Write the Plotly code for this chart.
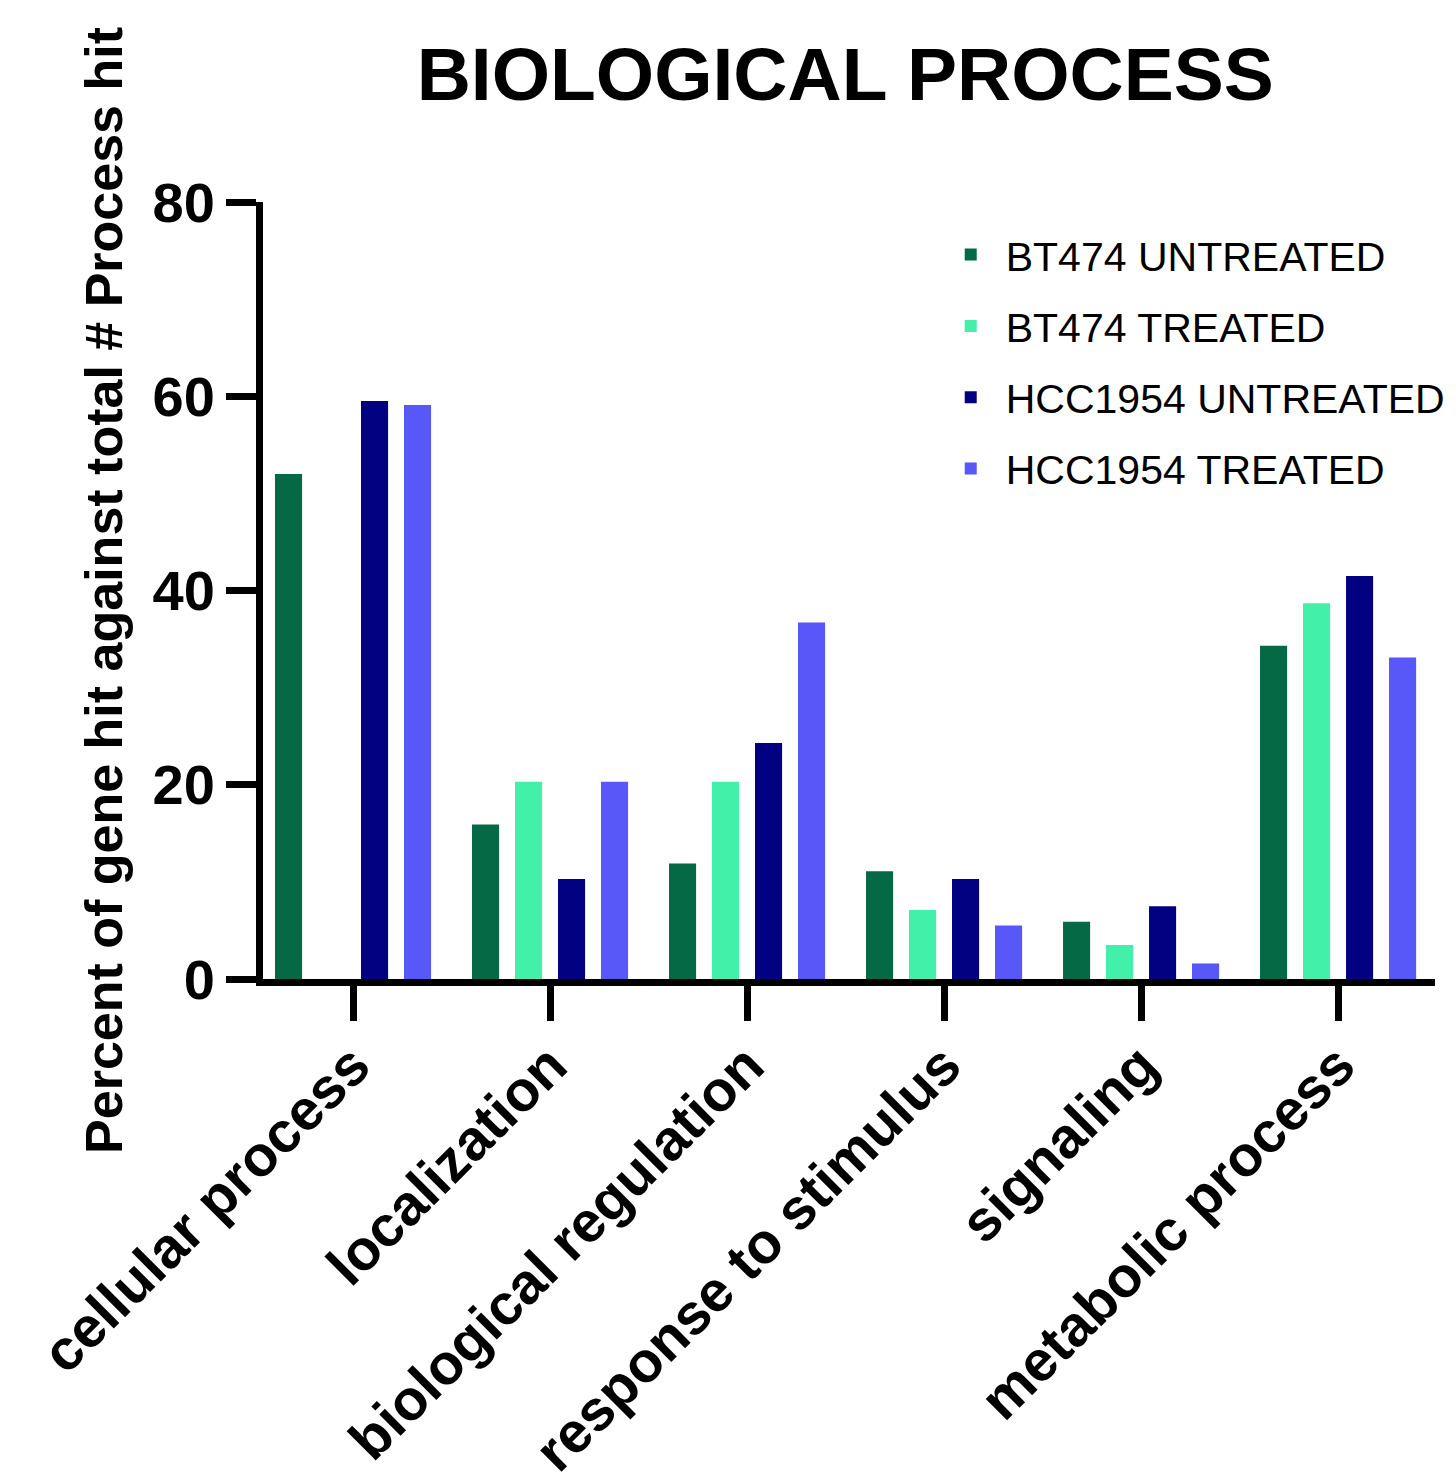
import plotly.graph_objects as go

categories = ["cellular process", "localization", "biological regulation",
              "response to stimulus", "signaling", "metabolic process"]
series_names = ["BT474 UNTREATED", "BT474 TREATED", "HCC1954 UNTREATED", "HCC1954 TREATED"]
bt474_untreated = [52.0, 15.9, 11.9, 11.1, 5.9, 34.3]
bt474_treated = [0.0, 20.3, 20.3, 7.1, 3.5, 38.7]
hcc1954_untreated = [59.5, 10.3, 24.3, 10.3, 7.5, 41.5]
hcc1954_treated = [59.1, 20.3, 36.7, 5.5, 1.6, 33.1]
colors = ["#066945", "#42F0AA", "#000080", "#5858F8"]
y_ticks = [0, 20, 40, 60, 80]

FONT = "Liberation Sans, Arial, sans-serif"

fig = go.Figure()
for name, vals, col in zip(series_names,
                           [bt474_untreated, bt474_treated, hcc1954_untreated, hcc1954_treated],
                           colors):
    fig.add_trace(go.Bar(x=categories, y=vals, name=name, legendgroup=name,
                         marker=dict(color=col, line=dict(width=0))))

W, H = 1456, 1482
fig.update_layout(
    width=W, height=H,
    paper_bgcolor="white", plot_bgcolor="white",
    margin=dict(l=255, r=29, t=194, b=511, autoexpand=False),
    barmode="group", bargap=0.127, bargroupgap=0.37,
    font=dict(family=FONT, color="black"),
    title=dict(text="<b>BIOLOGICAL PROCESS</b>", x=0.575, xanchor="center",
               y=1 - 66 / H, yanchor="middle", font=dict(size=75, family=FONT)),
    legend=dict(x=0.574, xanchor="left", y=0.975, yanchor="top",
                font=dict(size=41, family=FONT), itemwidth=60,
                tracegroupgap=15, bgcolor="rgba(0,0,0,0)"),
    showlegend=True,
)
fig.update_xaxes(
    range=[-0.457, 5.492], showline=True, linewidth=7, linecolor="black",
    ticks="outside", ticklen=35, tickwidth=7, tickcolor="black",
    tickangle=-45, tickfont=dict(size=57, family=FONT), showgrid=False,
    zeroline=False, automargin=False, ticklabelstandoff=-12,
    tickvals=categories, ticktext=[f"<b>{c}</b>" for c in categories],
)
fig.update_yaxes(
    range=[0, 80], tickvals=y_ticks, ticktext=[f"<b>{v}</b>" for v in y_ticks],
    showline=True, linewidth=7, linecolor="black",
    ticks="outside", ticklen=30, tickwidth=7, tickcolor="black",
    tickfont=dict(size=56, family=FONT), showgrid=False, zeroline=False,
    title=dict(text="<b>Percent of gene hit against total # Process hit</b>",
               font=dict(size=52, family=FONT), standoff=16),
    automargin=False,
)

fig.write_html("out.html")
